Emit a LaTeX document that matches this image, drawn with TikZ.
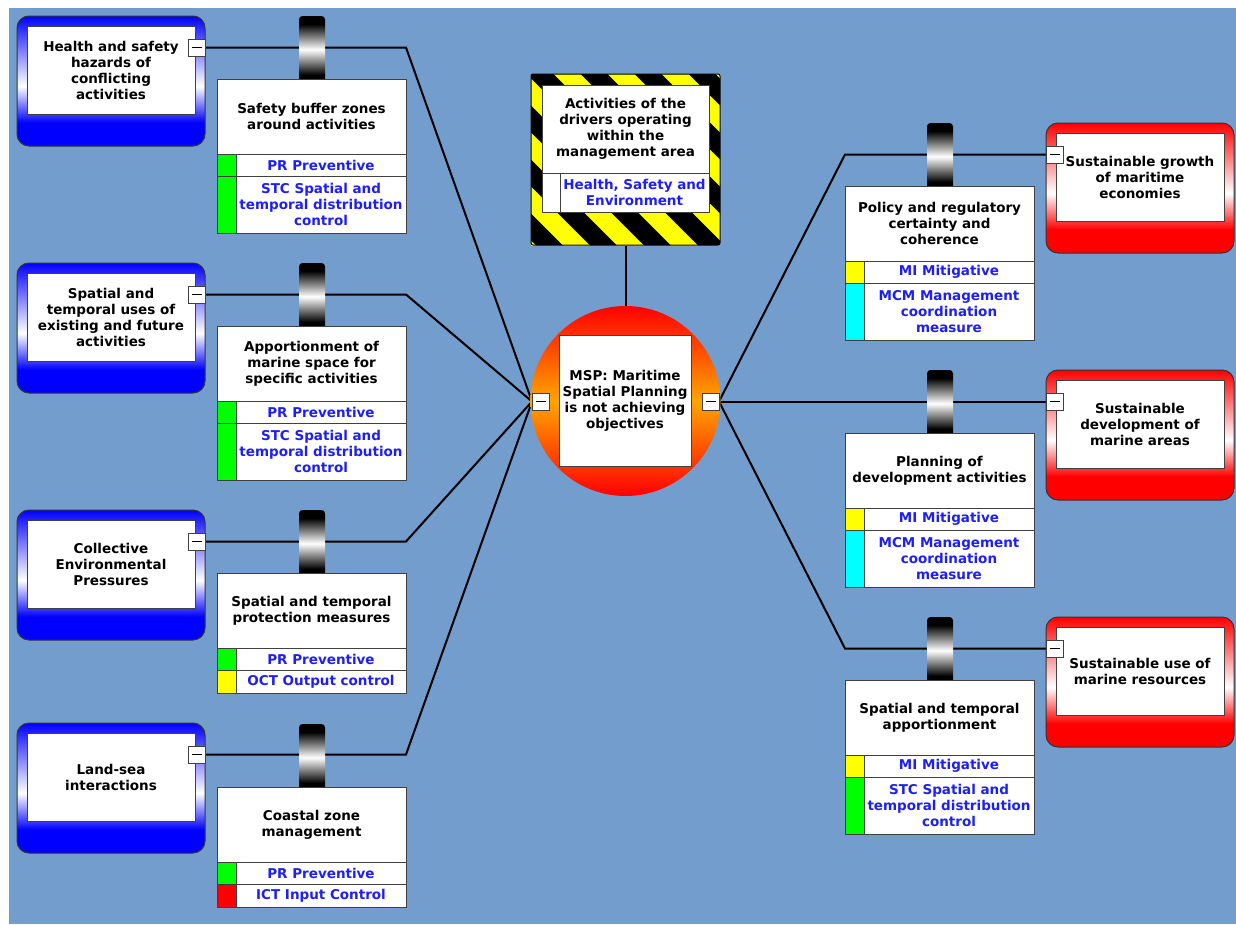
\documentclass[tikz,border=0pt]{standalone}
\usepackage{fontspec}
\setmainfont{DejaVu Sans}
\usetikzlibrary{calc}
\definecolor{bgblue}{RGB}{115,157,205}
\definecolor{tblue}{RGB}{0,0,255}
\definecolor{cred}{RGB}{255,0,0}
\definecolor{corange}{RGB}{255,165,0}
\definecolor{txtblue}{RGB}{30,30,250}
\definecolor{edge}{RGB}{64,64,64}
\definecolor{sgreen}{RGB}{0,255,0}
\definecolor{syellow}{RGB}{255,255,0}
\definecolor{scyan}{RGB}{0,255,255}
\definecolor{sred}{RGB}{255,0,0}
\pgfdeclareverticalshading{threatsh}{100bp}{color(0bp)=(tblue); color(34bp)=(tblue); color(48bp)=(white); color(75bp)=(tblue); color(100bp)=(tblue)}
\pgfdeclareverticalshading{conssh}{100bp}{color(0bp)=(cred); color(34bp)=(cred); color(48bp)=(white); color(75bp)=(cred); color(100bp)=(cred)}
\pgfdeclareverticalshading{circsh}{100bp}{color(0bp)=(cred); color(25bp)=(cred); color(50bp)=(corange); color(75bp)=(cred); color(100bp)=(cred)}
\pgfdeclareverticalshading{cylsh}{100bp}{color(0bp)=(black); color(31bp)=(black); color(50bp)=(white); color(69bp)=(black); color(100bp)=(black)}
\pgfdeclarelayer{back}
\pgfdeclarelayer{wires}
\pgfsetlayers{back,wires,main}
\tikzset{
  lbl/.style={font=\bfseries\fontsize{13.5}{16}\selectfont, align=center, text=black},
  base/.style={rectangle, inner sep=0pt, outer sep=0pt, anchor=north west},
  whitebox/.style={base, lbl, fill=white, draw=edge, line width=1pt},
  rowbox/.style={whitebox, text=txtblue, minimum width=170pt},
  stripbox/.style={base, draw=edge, line width=1pt, minimum width=19pt},
  outerthreat/.style={base, rounded corners=12pt, shade, shading=threatsh, draw=black!80, line width=1pt, minimum width=188pt, minimum height=130pt},
  outercons/.style={base, rounded corners=12pt, shade, shading=conssh, draw=black!80, line width=1pt, minimum width=188pt, minimum height=130pt},
  collapse/.style={base, fill=white, draw=edge, line width=1pt, minimum width=17pt, minimum height=17pt,
    path picture={\draw[black, line width=1pt] ($(path picture bounding box.west)+(3.5pt,0)$) -- ($(path picture bounding box.east)+(-3.5pt,0)$);}},
  cyl/.style={base, shade, shading=cylsh, rounded corners=3.5pt, minimum width=26pt, minimum height=67pt},
  wire/.style={black, line width=2pt},
}
\newcommand\threatnode[3]{%
  \node[outerthreat] (#1o) at (17,#2) {};
  \node[whitebox, minimum width=168pt, minimum height=88pt] (#1) at (27,#2+10) {#3};
  \node[collapse] (#1c) at (188,#2+23) {};
  \coordinate (#1k) at (406,#2+31.5);
}
\newcommand\consnode[3]{%
  \node[outercons] (#1o) at (1046,#2) {};
  \node[whitebox, minimum width=168pt, minimum height=88pt] (#1) at (1056,#2+10) {#3};
  \node[collapse] (#1c) at (1046,#2+23) {};
  \coordinate (#1k) at (845,#2+31.5);
}
\newcommand\barrier[9]{%
  \node[cyl] (#1y) at (#2+82,#3) {};
  \node[whitebox, minimum width=189pt, minimum height=75pt] (#1) at (#2,#3+63) {#4};
  \node[stripbox, fill=#5, minimum height=22pt] (#1s1) at (#2,#3+138) {};
  \node[rowbox, minimum height=22pt] (#1r1) at (#2+19,#3+138) {#6};
  \node[stripbox, fill=#7, minimum height=#9pt] (#1s2) at (#2,#3+160) {};
  \node[rowbox, minimum height=#9pt] (#1r2) at (#2+19,#3+160) {#8};
}
\begin{document}
\begin{tikzpicture}[x=1pt,y=-1pt]
\useasboundingbox (0,0) rectangle (1236,924);
\begin{pgfonlayer}{back}
  \fill[white] (0,0) rectangle (1236,924);
  \fill[bgblue] (9,8) rectangle (1236,924);
\end{pgfonlayer}

% hazard
\begin{scope}
  \clip (531,74) rectangle (720,245);
  \fill[black] (531,74) rectangle (720,245);
  \foreach \c in {277,331,385,439,493,547,601,655}
    \draw[syellow, line width=19pt] (\c+40,40) -- (\c+280,280);
\end{scope}
\node[base, draw=black, line width=1pt, rounded corners=2pt, minimum width=189pt, minimum height=171pt] (hazo) at (531,74) {};
\node[whitebox, minimum width=167pt, minimum height=88pt] (haz) at (542,85) {Activities of the\\drivers operating\\within the\\management area};
\node[whitebox, minimum width=18pt, minimum height=39pt] (hazs) at (542,173) {};
\node[whitebox, text=txtblue, minimum width=149pt, minimum height=39pt] (hazr) at (560,173) {Health, Safety and\\Environment};

% top event
\node[circle, shade, shading=circsh, minimum size=190pt, inner sep=0pt, outer sep=0pt] (te) at (625.5,401) {};
\node[whitebox, minimum width=132pt, minimum height=131pt] (teb) at (559,335) {MSP: Maritime\\Spatial Planning\\is not achieving\\objectives};
\node[collapse] (tel) at (532,393) {};
\node[collapse] (ter) at (702,393) {};

% threats
\threatnode{t1}{16}{Health and safety\\hazards of\\conflicting\\activities}
\threatnode{t2}{263}{Spatial and\\temporal uses of\\existing and future\\activities}
\threatnode{t3}{510}{Collective\\Environmental\\Pressures}
\threatnode{t4}{723}{Land-sea\\interactions}

% left barriers
\barrier{b1}{217}{16}{Safety buffer zones\\around activities}{sgreen}{PR Preventive}{sgreen}{STC Spatial and\\temporal distribution\\control}{57}
\barrier{b2}{217}{263}{Apportionment of\\marine space for\\specific activities}{sgreen}{PR Preventive}{sgreen}{STC Spatial and\\temporal distribution\\control}{57}
\barrier{b3}{217}{510}{Spatial and temporal\\protection measures}{sgreen}{PR Preventive}{syellow}{OCT Output control}{23}
\barrier{b4}{217}{724}{Coastal zone\\management}{sgreen}{PR Preventive}{sred}{ICT Input Control}{23}

% consequences
\consnode{c1}{123}{Sustainable growth\\of maritime\\economies}
\consnode{c2}{370}{Sustainable\\development of\\marine areas}
\consnode{c3}{617}{Sustainable use of\\marine resources}

% right barriers
\barrier{r1}{845}{123}{Policy and regulatory\\certainty and\\coherence}{syellow}{MI Mitigative}{scyan}{MCM Management\\coordination\\measure}{57}
\barrier{r2}{845}{370}{Planning of\\development activities}{syellow}{MI Mitigative}{scyan}{MCM Management\\coordination\\measure}{57}
\barrier{r3}{845}{617}{Spatial and temporal\\apportionment}{syellow}{MI Mitigative}{sgreen}{STC Spatial and\\temporal distribution\\control}{57}

\begin{pgfonlayer}{wires}
  \draw[wire] (t1c.east) -- (t1k) -- (tel.west);
  \draw[wire] (t2c.east) -- (t2k) -- (tel.west);
  \draw[wire] (t3c.east) -- (t3k) -- (tel.west);
  \draw[wire] (t4c.east) -- (t4k) -- (tel.west);
  \draw[wire] (ter.east) -- (c1k) -- (c1c.west);
  \draw[wire] (ter.east) -- (c2k) -- (c2c.west);
  \draw[wire] (ter.east) -- (c3k) -- (c3c.west);
  \draw[wire] (hazo.south) -- (te.north);
\end{pgfonlayer}
\end{tikzpicture}
\end{document}
